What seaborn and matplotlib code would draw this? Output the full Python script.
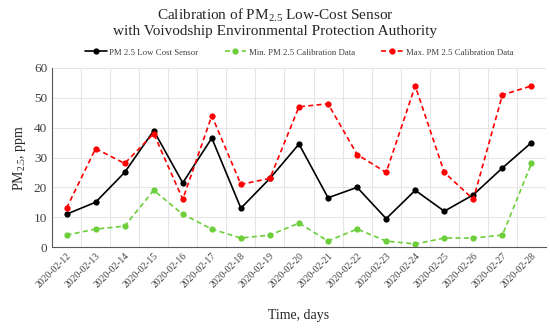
import numpy as np
import pandas as pd
import seaborn as sns
import matplotlib.pyplot as plt

dates = ['2020-02-12', '2020-02-13', '2020-02-14', '2020-02-15', '2020-02-16', '2020-02-17',
         '2020-02-18', '2020-02-19', '2020-02-20', '2020-02-21', '2020-02-22', '2020-02-23',
         '2020-02-24', '2020-02-25', '2020-02-26', '2020-02-27', '2020-02-28']
sensor = [11, 15, 25, 39, 21.5, 36.5, 13, 23, 34.5, 16.5, 20, 9.5, 19, 12, 17.5, 26.5, 35]
cal_min = [4, 6, 7, 19, 11, 6, 3, 4, 8, 2, 6, 2, 1, 3, 3, 4, 28]
cal_max = [13, 33, 28, 38, 16, 44, 21, 23, 47, 48, 31, 25, 54, 25, 16, 51, 54]

df = pd.DataFrame({'day': np.arange(len(dates)), 'date': dates,
                   'sensor': sensor, 'min': cal_min, 'max': cal_max})

sns.set_theme(style="white")
plt.rcParams['font.family'] = ['Liberation Serif', 'DejaVu Serif']
plt.rcParams['mathtext.fontset'] = 'custom'
plt.rcParams['mathtext.rm'] = 'Liberation Serif'
plt.rcParams['mathtext.it'] = 'Liberation Serif:italic'

fig = plt.figure(figsize=(5.5, 3.3), dpi=100)
ax = fig.add_axes([52 / 550, 1 - 247 / 330, 494 / 550, 179 / 330])

sns.lineplot(data=df, x='day', y='sensor', ax=ax, color='black', lw=1.2,
             marker='o', markersize=4.5, markeredgewidth=0, label='PM 2.5 Low Cost Sensor')
sns.lineplot(data=df, x='day', y='min', ax=ax, color='#6ccf3a', lw=1.2, dashes=(3, 2),
             marker='o', markersize=4.5, markeredgewidth=0, label='Min. PM 2.5 Calibration Data')
sns.lineplot(data=df, x='day', y='max', ax=ax, color='#ff0000', lw=1.2, dashes=(3, 2),
             marker='o', markersize=4.5, markeredgewidth=0, label='Max. PM 2.5 Calibration Data')

ax.set_xlim(-0.5, len(dates) - 0.5)
ax.set_ylim(0, 60)
ax.set_yticks(range(0, 61, 10))
ax.set_xticks(df['day'])
ax.set_xticklabels(dates, rotation=45, ha='right', rotation_mode='anchor', fontsize=7, color='#404040')
ax.set_xticks(np.arange(-0.5, len(dates), 1), minor=True)
ax.tick_params(axis='y', labelsize=9.5, colors='#404040', length=0)
ax.tick_params(axis='x', which='both', length=0, pad=3)
ax.grid(True, which='minor', axis='x', color='#e6e6e6', lw=0.8)
ax.grid(True, which='major', axis='y', color='#e6e6e6', lw=0.8)
for s in ['top', 'right']:
    ax.spines[s].set_visible(False)
ax.spines['left'].set_color('#595959')
ax.spines['bottom'].set_color('#595959')
ax.spines['left'].set_linewidth(0.8)
ax.spines['bottom'].set_linewidth(0.8)

ax.set_xlabel('Time, days', fontsize=10, labelpad=14)
ax.set_ylabel(r'PM$_{2.5}$, ppm', fontsize=10, labelpad=4)

leg = ax.legend(loc='lower center', bbox_to_anchor=(0.5, 1.02), ncol=3, frameon=False,
                fontsize=6.3, handlelength=2.5, columnspacing=3, handletextpad=0.3)
for t in leg.get_texts():
    t.set_color('#404040')

fig.text(0.5, 1 - 15 / 330, r'Calibration of PM$_{2.5}$ Low-Cost Sensor', ha='center', va='center', fontsize=11)
fig.text(0.5, 1 - 32 / 330, 'with Voivodship Environmental Protection Authority', ha='center', va='center', fontsize=11)

fig.savefig('out.png', dpi=100)
